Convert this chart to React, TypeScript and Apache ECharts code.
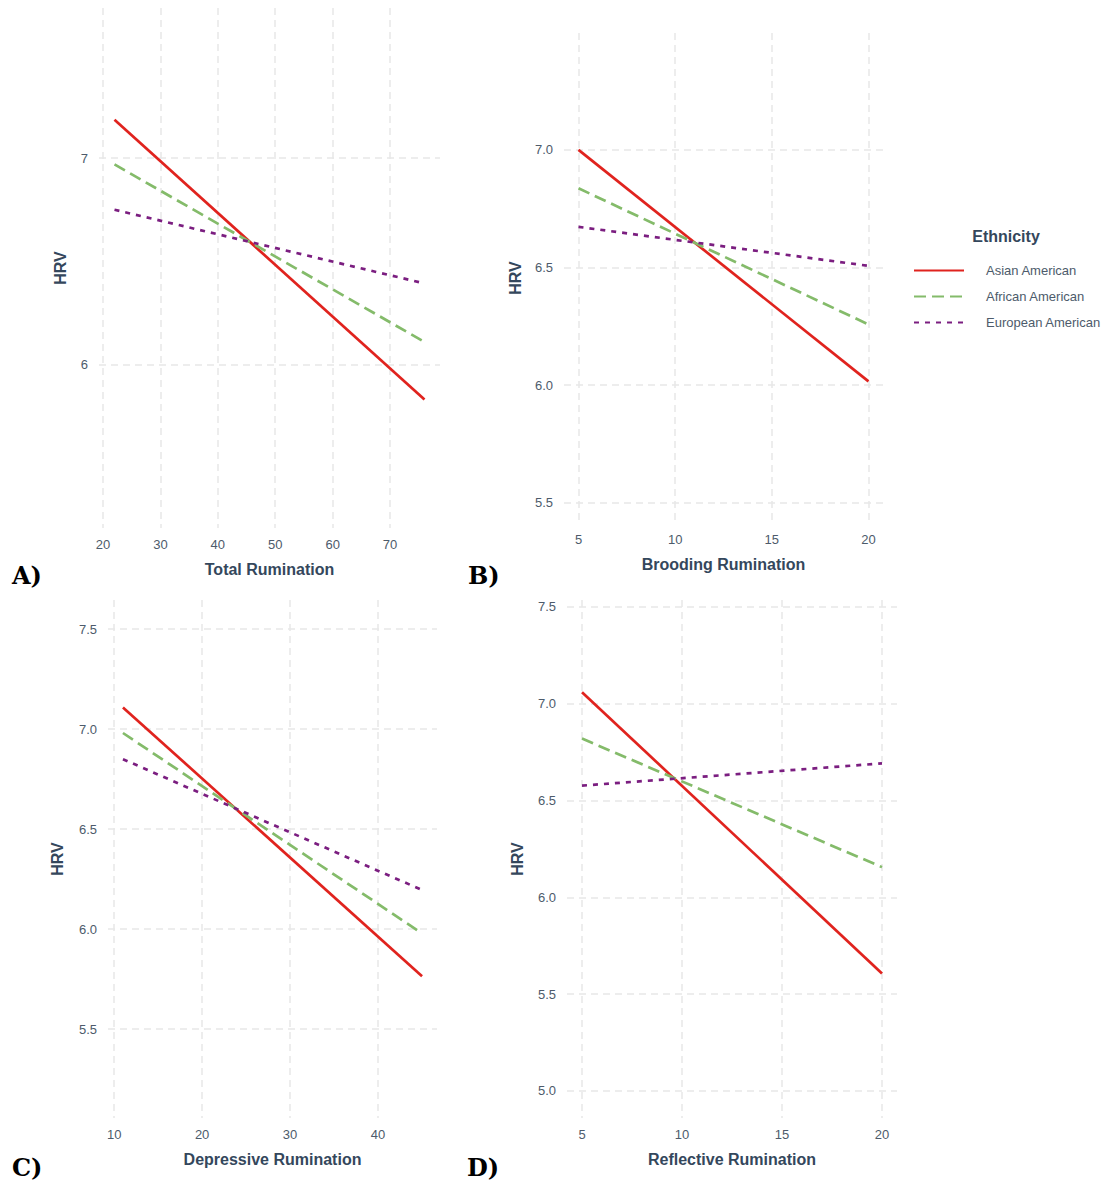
import React, { useEffect, useRef } from "react";
import * as echarts from "echarts";

// ---- data ----
const GROUPS = ["Asian American", "African American", "European American"];
const COLORS = ["#e0231e", "#84bb6a", "#7b1e80"];
const DASHES: any[] = ["solid", [12, 6], [5, 6]];

const A_X = [22, 76];
const A_ASIAN = [7.185, 5.833];
const A_AFRICAN = [6.969, 6.111];
const A_EUROPEAN = [6.75, 6.394];
const A_XTICKS = [20, 30, 40, 50, 60, 70];
const A_YTICKS = [6, 7];

const B_X = [5, 20];
const B_ASIAN = [7.0, 6.016];
const B_AFRICAN = [6.837, 6.258];
const B_EUROPEAN = [6.673, 6.507];
const B_XTICKS = [5, 10, 15, 20];
const B_YTICKS = [5.5, 6.0, 6.5, 7.0];

const C_X = [11, 45];
const C_ASIAN = [7.108, 5.764];
const C_AFRICAN = [6.98, 5.978];
const C_EUROPEAN = [6.849, 6.195];
const C_XTICKS = [10, 20, 30, 40];
const C_YTICKS = [5.5, 6.0, 6.5, 7.0, 7.5];

const D_X = [5, 20];
const D_ASIAN = [7.06, 5.607];
const D_AFRICAN = [6.82, 6.156];
const D_EUROPEAN = [6.577, 6.692];
const D_XTICKS = [5, 10, 15, 20];
const D_YTICKS = [5.0, 5.5, 6.0, 6.5, 7.0, 7.5];

const SANS = "Liberation Sans, Arial, sans-serif";
const TICK_COLOR = "#4d5b6b";
const TITLE_COLOR = "#34475c";
const GRID_COLOR = "#e7e7e7";

const PANELS = [
  {
    letter: "A)", letterX: 12, letterY: 577,
    xTitle: "Total Rumination", x: A_X, vals: [A_ASIAN, A_AFRICAN, A_EUROPEAN],
    xTicks: A_XTICKS, yTicks: A_YTICKS, yDigits: 0,
    grid: { left: 99, top: 8, width: 341, height: 520 },
    xMin: 19.3, xMax: 78.7, yMin: 5.212, yMax: 7.725, yGap: 31,
  },
  {
    letter: "B)", letterX: 468, letterY: 577,
    xTitle: "Brooding Rumination", x: B_X, vals: [B_ASIAN, B_AFRICAN, B_EUROPEAN],
    xTicks: B_XTICKS, yTicks: B_YTICKS, yDigits: 1,
    grid: { left: 564, top: 33, width: 319, height: 490 },
    xMin: 4.25, xMax: 20.75, yMin: 5.414, yMax: 7.497, yGap: 41,
  },
  {
    letter: "C)", letterX: 12, letterY: 1169,
    xTitle: "Depressive Rumination", x: C_X, vals: [C_ASIAN, C_AFRICAN, C_EUROPEAN],
    xTicks: C_XTICKS, yTicks: C_YTICKS, yDigits: 1,
    grid: { left: 108, top: 600, width: 329, height: 518 },
    xMin: 9.3, xMax: 46.7, yMin: 5.055, yMax: 7.645, yGap: 43,
  },
  {
    letter: "D)", letterX: 467, letterY: 1169,
    xTitle: "Reflective Rumination", x: D_X, vals: [D_ASIAN, D_AFRICAN, D_EUROPEAN],
    xTicks: D_XTICKS, yTicks: D_YTICKS, yDigits: 1,
    grid: { left: 567, top: 600, width: 330, height: 518 },
    xMin: 4.25, xMax: 20.75, yMin: 4.86, yMax: 7.536, yGap: 42,
  },
];

const gridLine = {
  show: true,
  lineStyle: { color: GRID_COLOR, width: 1.5, type: [7, 5] as any },
};

function buildOption() {
  const grid: any[] = [];
  const xAxis: any[] = [];
  const yAxis: any[] = [];
  const series: any[] = [];
  const graphic: any[] = [];

  PANELS.forEach((p, i) => {
    grid.push({ ...p.grid, containLabel: false });
    xAxis.push({
      type: "value",
      gridIndex: i,
      min: p.xMin,
      max: p.xMax,
      name: p.xTitle,
      nameLocation: "middle",
      nameGap: 33,
      nameTextStyle: { fontFamily: SANS, fontSize: 16, fontWeight: "bold", color: TITLE_COLOR },
      axisLine: { show: false },
      axisTick: { show: false, customValues: p.xTicks },
      axisLabel: {
        customValues: p.xTicks,
        margin: 10,
        fontFamily: SANS,
        fontSize: 13,
        color: TICK_COLOR,
      },
      splitLine: gridLine,
    });
    yAxis.push({
      type: "value",
      gridIndex: i,
      min: p.yMin,
      max: p.yMax,
      name: "HRV",
      nameLocation: "middle",
      nameGap: p.yGap,
      nameRotate: 90,
      nameTextStyle: { fontFamily: SANS, fontSize: 16, fontWeight: "bold", color: TITLE_COLOR },
      axisLine: { show: false },
      axisTick: { show: false, customValues: p.yTicks },
      axisLabel: {
        customValues: p.yTicks,
        margin: 11,
        fontFamily: SANS,
        fontSize: 13,
        color: TICK_COLOR,
        formatter: (v: number) => v.toFixed(p.yDigits),
      },
      splitLine: gridLine,
    });
    p.vals.forEach((vals, g) => {
      series.push({
        type: "line",
        name: GROUPS[g],
        xAxisIndex: i,
        yAxisIndex: i,
        data: p.x.map((xv, j) => [xv, vals[j]]),
        symbol: "none",
        showSymbol: false,
        silent: true,
        lineStyle: { color: COLORS[g], width: 2.7, type: DASHES[g] },
        itemStyle: { color: COLORS[g] },
        z: 3 + g,
      });
    });
    graphic.push({
      type: "text",
      left: p.letterX,
      top: p.letterY - 14,
      style: {
        text: p.letter,
        fontFamily: "DejaVu Serif",
        fontWeight: "bold",
        fontSize: 24,
        fill: "#000",
      },
    });
  });

  graphic.push({
    type: "text",
    x: 1006,
    y: 236,
    style: {
      text: "Ethnicity",
      fontFamily: SANS,
      fontWeight: "bold",
      fontSize: 16,
      fill: TITLE_COLOR,
      align: "center",
      verticalAlign: "middle",
    },
  });

  return {
    animation: false,
    backgroundColor: "#ffffff",
    grid,
    xAxis,
    yAxis,
    series,
    graphic,
    legend: {
      data: GROUPS,
      orient: "vertical",
      left: 913,
      top: 264,
      padding: 0,
      itemWidth: 50,
      itemHeight: 14,
      itemGap: 13,
      selectedMode: false,
      itemStyle: { opacity: 0, borderWidth: 0 },
      textStyle: { fontFamily: SANS, fontSize: 13, color: TICK_COLOR, padding: [0, 0, 0, 17] },
    },
  };
}

export default function App() {
  const ref = useRef<HTMLDivElement>(null);
  useEffect(() => {
    if (!ref.current) return;
    const chart = echarts.init(ref.current, undefined, { renderer: "svg" });
    chart.setOption(buildOption() as any);
    return () => chart.dispose();
  }, []);
  return (
    <div
      ref={ref}
      style={{ position: "absolute", left: 0, top: 0, width: 1104, height: 1188, background: "#fff" }}
    />
  );
}
